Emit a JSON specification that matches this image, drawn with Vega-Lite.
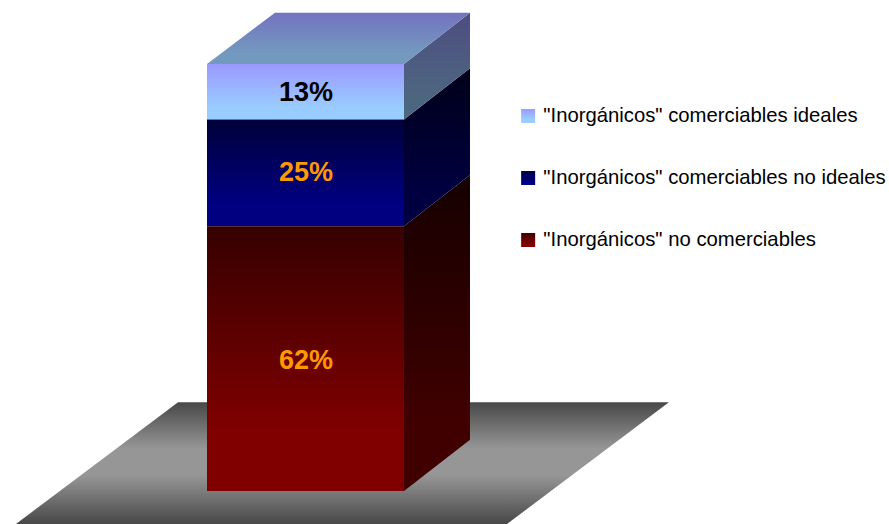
{
"$schema":"https://vega.github.io/schema/vega-lite/v6.json",
"width":889,"height":524,"padding":0,"autosize":{"type":"none"},
"background":"white",
"config":{"view":{"stroke":null}},
"params":[
{"name":"gradA","expr":"{gradient:'linear',x1:0,y1:0,x2:0,y2:1,stops:[{offset:0,color:'#9999ff'},{offset:0.75,color:'#99ccff'},{offset:1,color:'#99ccff'}]}"},
{"name":"gradB","expr":"{gradient:'linear',x1:0,y1:0,x2:0,y2:1,stops:[{offset:0,color:'#000040'},{offset:0.75,color:'#000080'},{offset:1,color:'#000080'}]}"},
{"name":"gradC","expr":"{gradient:'linear',x1:0,y1:0,x2:0,y2:1,stops:[{offset:0,color:'#400000'},{offset:0.75,color:'#800000'},{offset:1,color:'#800000'}]}"}
],
"datasets":{
"serie":[
{"serie":"\"Inorgánicos\" comerciables ideales","valor":13,"etiqueta":"13%","inicio":87,"fin":100,"medio":93.2,"izq":0,"der":100,"centro":50.3},
{"serie":"\"Inorgánicos\" comerciables no ideales","valor":25,"etiqueta":"25%","inicio":62,"fin":87,"medio":74.4,"izq":0,"der":100,"centro":50.3},
{"serie":"\"Inorgánicos\" no comerciables","valor":62,"etiqueta":"62%","inicio":0,"fin":62,"medio":30.5,"izq":0,"der":100,"centro":50.3}
],
"lados":[
{"cara":"a","x":100,"y0":87,"y1":100},{"cara":"a","x":133.5,"y0":99,"y1":112},
{"cara":"b","x":100,"y0":62,"y1":87},{"cara":"b","x":133.5,"y0":74,"y1":99},
{"cara":"c","x":100,"y0":0,"y1":62},{"cara":"c","x":133.5,"y0":12,"y1":74}
],
"tapa":[{"y":100,"x0":0,"x1":100},{"y":112,"x0":34.5,"x1":133.5}],
"suelo":[{"y":-7.73,"x0":-97,"x1":152.3},{"y":20.8,"x0":-14.7,"x1":234.5}]
},
"layer":[
{"data":{"name":"suelo"},
"mark":{"type":"area","orient":"horizontal","color":{"gradient":"linear","x1":0,"y1":0,"x2":0,"y2":1,"stops":[{"offset":0,"color":"#484848"},{"offset":0.38,"color":"#969696"},{"offset":0.6,"color":"#969696"},{"offset":1,"color":"#484848"}]}},
"encoding":{
"y":{"field":"y","type":"quantitative","scale":{"domain":[-7.73,115],"nice":false,"zero":false},"axis":null},
"x":{"field":"x0","type":"quantitative","scale":{"domain":[-105.08,346.2],"nice":false,"zero":false},"axis":null},
"x2":{"field":"x1"}}},
{"data":{"name":"lados"},"transform":[{"filter":"datum.cara==='c'"}],
"mark":{"type":"area","orient":"vertical","color":{"gradient":"linear","x1":0,"y1":0,"x2":0,"y2":1,"stops":[{"offset":0,"color":"#160000"},{"offset":0.78,"color":"#400000"},{"offset":1,"color":"#400000"}]}},
"encoding":{"x":{"field":"x","type":"quantitative","axis":null},"y":{"field":"y0","type":"quantitative","axis":null},"y2":{"field":"y1"}}},
{"data":{"name":"lados"},"transform":[{"filter":"datum.cara==='b'"}],
"mark":{"type":"area","orient":"vertical","color":{"gradient":"linear","x1":0,"y1":0,"x2":0,"y2":1,"stops":[{"offset":0,"color":"#00001a"},{"offset":0.78,"color":"#000040"},{"offset":1,"color":"#000040"}]}},
"encoding":{"x":{"field":"x","type":"quantitative","axis":null},"y":{"field":"y0","type":"quantitative","axis":null},"y2":{"field":"y1"}}},
{"data":{"name":"lados"},"transform":[{"filter":"datum.cara==='a'"}],
"mark":{"type":"area","orient":"vertical","color":{"gradient":"linear","x1":0,"y1":0,"x2":0,"y2":1,"stops":[{"offset":0,"color":"#4d4d80"},{"offset":0.78,"color":"#4d6680"},{"offset":1,"color":"#4d6680"}]}},
"encoding":{"x":{"field":"x","type":"quantitative","axis":null},"y":{"field":"y0","type":"quantitative","axis":null},"y2":{"field":"y1"}}},
{"data":{"name":"tapa"},
"mark":{"type":"area","orient":"horizontal","color":{"gradient":"linear","x1":0,"y1":0,"x2":0,"y2":1,"stops":[{"offset":0,"color":"#7373bf"},{"offset":0.78,"color":"#7399bf"},{"offset":1,"color":"#7399bf"}]}},
"encoding":{"y":{"field":"y","type":"quantitative","axis":null},"x":{"field":"x0","type":"quantitative","axis":null},"x2":{"field":"x1"}}},
{"data":{"name":"serie"},
"encoding":{
"x":{"field":"izq","type":"quantitative","axis":null},"x2":{"field":"der"},
"y":{"field":"inicio","type":"quantitative","axis":null},"y2":{"field":"fin"},
"stroke":{"field":"serie","type":"nominal","title":null,
"scale":{"domain":["\"Inorgánicos\" comerciables ideales","\"Inorgánicos\" comerciables no ideales","\"Inorgánicos\" no comerciables"],
"range":["#99b3ff","#000060","#600000"]},
"legend":{"orient":"none","legendX":518,"legendY":105,"symbolType":"square","symbolSize":196,"symbolStrokeWidth":0,"labelFont":"Liberation Sans","labelFontSize":20.3,"labelColor":"#000000","labelLimit":400,"rowPadding":40,"labelOffset":5,"clipHeight":22,
"encoding":{"symbols":{"fill":{"value":{"expr":"indexof(datum.value,'no comerciables')>=0?gradC:indexof(datum.value,'no ideales')>=0?gradB:gradA"}}}}}}},
"layer":[
{"transform":[{"filter":"datum.valor===13"}],
"mark":{"type":"bar","strokeWidth":0,"fill":{"gradient":"linear","x1":0,"y1":0,"x2":0,"y2":1,"stops":[{"offset":0,"color":"#9999ff"},{"offset":0.78,"color":"#99ccff"},{"offset":1,"color":"#99ccff"}]}}},
{"transform":[{"filter":"datum.valor===25"}],
"mark":{"type":"bar","strokeWidth":0,"fill":{"gradient":"linear","x1":0,"y1":0,"x2":0,"y2":1,"stops":[{"offset":0,"color":"#00003a"},{"offset":0.78,"color":"#000080"},{"offset":1,"color":"#000080"}]}}},
{"transform":[{"filter":"datum.valor===62"}],
"mark":{"type":"bar","strokeWidth":0,"fill":{"gradient":"linear","x1":0,"y1":0,"x2":0,"y2":1,"stops":[{"offset":0,"color":"#360000"},{"offset":0.78,"color":"#800000"},{"offset":1,"color":"#800000"}]}}}
]},
{"data":{"name":"serie"},
"mark":{"type":"text","font":"Liberation Sans","fontWeight":"bold","fontSize":27,"align":"center","baseline":"middle"},
"encoding":{
"x":{"field":"centro","type":"quantitative","axis":null},
"y":{"field":"medio","type":"quantitative","axis":null},
"text":{"field":"etiqueta","type":"nominal"},
"color":{"condition":{"test":"datum.valor===13","value":"#000000"},"value":"#ff9900"}}}
]
}
